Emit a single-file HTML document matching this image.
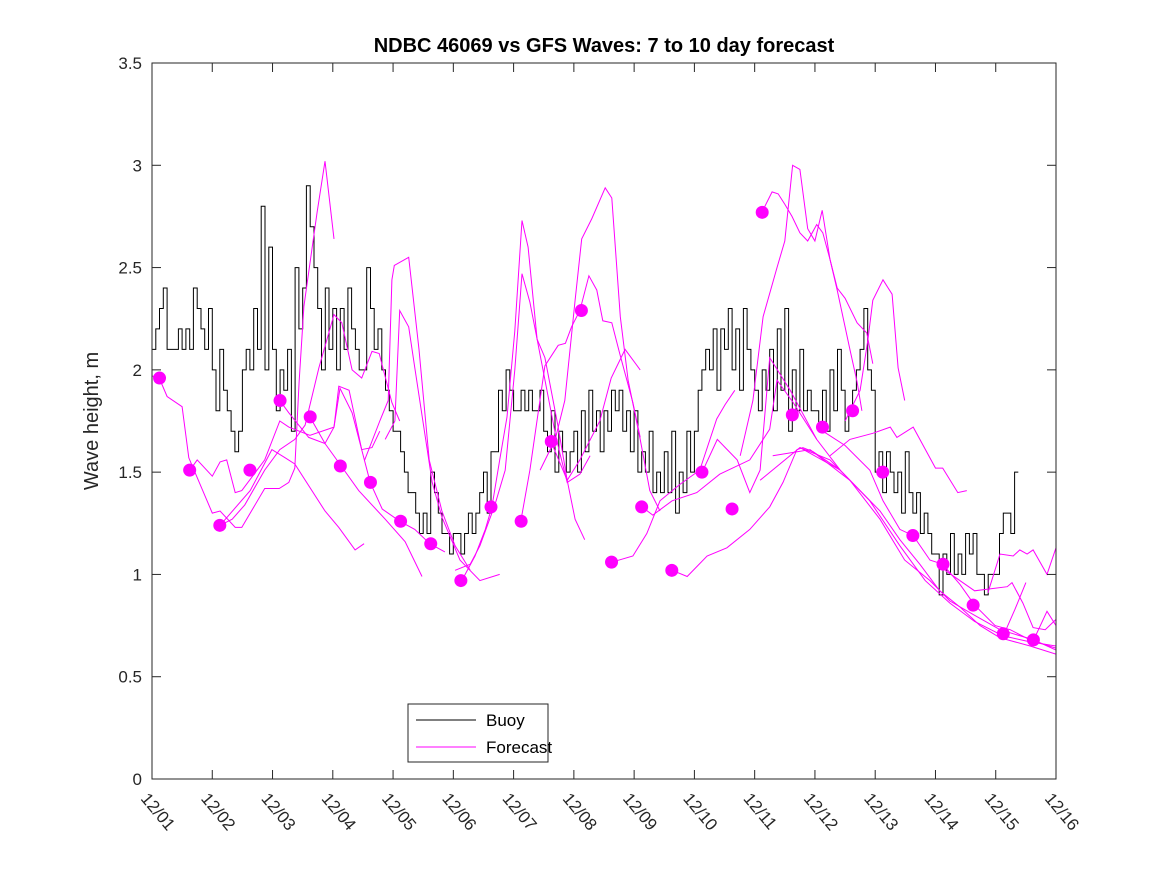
<!DOCTYPE html>
<html><head><meta charset="utf-8"><style>
body{margin:0;background:#fff;}
svg{display:block;font-family:"Liberation Sans",sans-serif;}
</style></head><body>
<svg id="chart" width="1167" height="875" viewBox="0 0 1167 875">
<rect width="1167" height="875" fill="#fff"/>
<text x="604" y="52" text-anchor="middle" font-size="20" font-weight="bold">NDBC 46069 vs GFS Waves: 7 to 10 day forecast</text>
<text transform="translate(98,421) rotate(-90)" text-anchor="middle" font-size="20" fill="#262626">Wave height, m</text>
<defs><clipPath id="clip"><rect x="152" y="63" width="904" height="716"/></clipPath></defs>
<g id="series" clip-path="url(#clip)"></g>
<rect x="152" y="63" width="904" height="716" fill="none" stroke="#262626" stroke-width="1"/>
<g id="axes"></g>
<g>
<rect x="408" y="704" width="140" height="58" fill="#fff" stroke="#262626"/>
<line x1="416" y1="720" x2="476" y2="720" stroke="#000"/>
<text x="486" y="726" font-size="17">Buoy</text>
<line x1="416" y1="747" x2="476" y2="747" stroke="#ff00ff"/>
<text x="486" y="753" font-size="17">Forecast</text>
</g>
</svg>
<script>
const xTickLabels=["12/01","12/02","12/03","12/04","12/05","12/06","12/07","12/08","12/09","12/10","12/11","12/12","12/13","12/14","12/15","12/16"];
const yTicks=[0,0.5,1,1.5,2,2.5,3,3.5];
const yTickLabels=["0","0.5","1","1.5","2","2.5","3","3.5"];
const buoyStep=1/16;
const buoy=[
2.1,2.2,2.3,2.4,2.1,2.1,2.1,2.2,2.1,2.2,2.1,2.4,2.3,2.2,2.1,2.3,
2.0,1.8,2.1,1.9,1.8,1.7,1.6,1.7,2.0,2.1,2.0,2.3,2.1,2.8,2.0,2.6,
2.1,1.8,2.0,1.9,2.1,1.7,2.5,2.2,2.4,2.9,2.7,2.5,2.3,2.0,2.4,2.1,
2.3,2.0,2.3,2.1,2.4,2.2,2.1,2.0,2.0,2.5,2.3,2.1,2.2,2.0,1.9,1.8,
1.7,1.7,1.6,1.5,1.4,1.4,1.3,1.2,1.3,1.2,1.5,1.4,1.3,1.2,1.2,1.1,
1.2,1.2,1.1,1.2,1.3,1.2,1.3,1.4,1.5,1.3,1.6,1.6,1.9,1.8,2.0,1.9,
1.8,1.8,1.9,1.8,1.9,1.8,1.8,1.9,1.7,1.6,1.8,1.5,1.7,1.6,1.5,1.6,
1.7,1.5,1.8,1.6,1.9,1.7,1.8,1.6,1.8,1.7,1.9,1.8,1.9,1.7,1.8,1.6,
1.8,1.5,1.6,1.5,1.7,1.4,1.5,1.4,1.6,1.4,1.7,1.3,1.5,1.4,1.7,1.5,
1.7,1.9,2.0,2.1,2.0,2.2,1.9,2.2,2.1,2.3,2.0,2.2,1.9,2.3,2.1,2.0,
1.9,1.8,2.0,1.9,2.1,1.8,2.2,1.9,2.3,1.7,2.0,1.8,2.1,1.8,1.9,1.8,
1.8,1.7,1.9,1.7,2.0,1.8,2.1,1.9,1.7,1.8,1.9,2.0,2.1,2.3,2.0,1.9,
1.5,1.6,1.4,1.6,1.5,1.4,1.5,1.3,1.6,1.4,1.3,1.4,1.2,1.3,1.2,1.1,
1.1,0.9,1.1,1.0,1.2,1.0,1.1,1.0,1.2,1.1,1.2,1.0,1.0,0.9,1.0,1.0,
1.0,1.2,1.3,1.3,1.2,1.5];
const dotDays=[0.125,0.625,1.125,1.625,2.125,2.625,3.125,3.625,4.125,4.625,5.125,5.625,6.125,6.625,7.125,7.625,8.125,8.625,9.125,9.625,10.125,10.625,11.125,11.625,12.125,12.625,13.125,13.625,14.125,14.625];
const dotValues=[1.96,1.51,1.24,1.51,1.85,1.77,1.53,1.45,1.26,1.15,0.97,1.33,1.26,1.65,2.29,1.06,1.33,1.02,1.50,1.32,2.77,1.78,1.72,1.80,1.50,1.19,1.05,0.85,0.71,0.68];

const fcDays1=[0,0.12,0.25,0.50,0.61,1.0,1.13,1.38,1.49,1.87,2.11,2.27,2.37,2.44,2.52,2.74,2.87,3.02];
const fcVals1=[1.97,1.96,1.87,1.82,1.57,1.30,1.31,1.23,1.23,1.42,1.42,1.45,1.52,1.94,2.31,2.77,3.02,2.64];
const fcDays2=[0.63,0.75,1.0,1.13,1.24,1.38,1.49,1.87,2.12,2.27,2.62,3.02,3.10,3.27,3.48,3.65,3.78];
const fcVals2=[1.51,1.56,1.48,1.55,1.56,1.40,1.41,1.56,1.75,1.72,1.68,1.72,1.92,1.90,1.61,1.62,1.70];
const fcDays3=[1.13,1.33,1.54,1.87,2.12,2.37,2.54,2.77,3.02,3.15,3.32,3.48,3.65,3.77,3.98,4.11];
const fcVals3=[1.24,1.27,1.34,1.51,1.61,1.66,1.73,2.01,2.27,2.23,2.0,1.96,2.09,2.08,1.84,1.75];
const fcDays4=[1.13,1.63,1.99,2.21,2.37,2.87,3.10,3.37,3.52];
const fcVals4=[1.24,1.41,1.61,1.57,1.54,1.31,1.23,1.12,1.15];
const fcDays5=[2.12,2.27,2.60,2.87,3.14,3.43,3.87,4.20,4.48];
const fcVals5=[1.85,1.79,1.67,1.64,1.53,1.41,1.27,1.16,0.99];
const fcDays6=[2.62,2.87,3.02,3.12,3.32,3.62,3.82,4.11,4.36,4.61,4.86];
const fcVals6=[1.77,1.64,1.72,1.91,1.79,1.45,1.32,1.26,1.22,1.15,1.11];
const fcDays7=[3.53,3.78,3.92,3.98,4.02,4.26,4.43,4.60,4.81,5.03,5.28];
const fcVals7=[1.56,1.75,1.85,2.44,2.51,2.55,2.10,1.56,1.31,1.14,1.02];
const fcDays8=[3.87,4.03,4.11,4.26,4.36,4.65,4.81,5.11,5.44,5.77];
const fcVals8=[1.66,1.75,2.29,2.21,2.01,1.45,1.28,1.07,0.97,1.0];
const fcDays9=[5.14,5.36,5.53,5.64,5.77,5.89,6.02,6.14,6.24,6.39,6.52,6.74,6.89,7.02,7.18];
const fcVals9=[0.97,1.09,1.22,1.33,1.56,1.77,2.19,2.73,2.60,2.15,2.06,1.72,1.46,1.27,1.17];
const fcDays10=[5.03,5.28,5.44,5.69,5.86,6.02,6.14,6.27,6.39,6.69,6.77,6.89,7.10,7.27];
const fcVals10=[1.02,1.05,1.14,1.34,1.51,2.0,2.47,2.33,2.15,1.69,1.59,1.45,1.49,1.58];
const fcDays11=[6.12,6.27,6.52,6.74,6.86,6.96,7.10,7.25,7.38,7.48,7.63,7.76,7.98,8.10];
const fcVals11=[1.26,1.51,2.02,2.12,2.13,2.21,2.29,2.46,2.39,2.24,2.23,2.08,1.84,1.67];
const fcDays12=[6.44,6.69,6.85,7.02,7.13,7.30,7.52,7.63,7.77,7.90,8.10,8.26,8.43];
const fcVals12=[1.51,1.66,1.85,2.34,2.64,2.74,2.89,2.84,2.26,1.95,1.66,1.41,1.31];
const fcDays13=[6.62,6.89,7.10,7.43,7.62,7.85,8.10];
const fcVals13=[1.65,1.46,1.56,1.75,1.96,2.10,2.0];
const fcDays14=[7.63,7.98,8.21,8.43,8.76,9.09,9.37,9.51,9.67];
const fcVals14=[1.06,1.09,1.20,1.36,1.44,1.51,1.76,1.83,1.90];
const fcDays15=[8.63,8.88,9.21,9.54,9.92,10.25,10.47,10.70,10.80,10.97,11.42];
const fcVals15=[1.02,0.99,1.09,1.13,1.22,1.33,1.45,1.61,1.62,1.60,1.51];
const fcDays16=[8.13,8.31,8.63,9.04,9.42,9.92,10.25,10.37,10.64,11.03];
const fcVals16=[1.33,1.29,1.36,1.40,1.49,1.56,1.71,1.95,1.84,1.66];
const fcDays17=[9.13,9.38,9.71,9.92,10.09,10.25,10.59,11.03,11.42];
const fcVals17=[1.50,1.66,1.56,1.40,1.51,2.06,1.90,1.66,1.51];
const fcDays18=[10.12,10.29,10.39,10.50,10.62,10.75,10.88,11.03,11.13,11.25,11.37,11.50,11.70,11.86,11.96];
const fcVals18=[2.77,2.87,2.86,2.81,2.75,2.67,2.63,2.71,2.67,2.54,2.40,2.35,2.23,2.18,2.03];
const fcDays19=[9.76,9.97,10.14,10.37,10.50,10.63,10.75,10.88,11.0,11.12,11.25,11.37,11.58,11.70,11.78];
const fcVals19=[1.58,1.85,2.26,2.50,2.63,3.0,2.98,2.69,2.63,2.78,2.54,2.39,2.10,1.94,1.80];
const fcDays20=[11.5,11.75,11.88,11.96,12.13,12.28,12.38,12.49];
const fcVals20=[1.75,1.90,2.15,2.34,2.44,2.37,2.01,1.85];
const fcDays21=[11.25,11.58,11.96,12.25,12.36,12.63,13.0,13.12,13.37,13.52];
const fcVals21=[1.58,1.66,1.69,1.72,1.67,1.72,1.52,1.52,1.40,1.41];
const fcDays22=[11.08,11.50,11.91,12.13,12.41,12.63,12.91,13.12,13.41,13.65,13.99,14.24,14.57,15.0];
const fcVals22=[1.71,1.63,1.51,1.36,1.22,1.19,1.07,1.05,0.95,0.85,0.75,0.73,0.68,0.64];
const fcDays23=[10.75,11.42,12.08,12.41,12.74,13.07,13.41,13.74,14.07,14.57,15.0];
const fcVals23=[1.62,1.51,1.31,1.17,1.05,0.92,0.84,0.75,0.69,0.65,0.61];
const fcDays24=[10.30,10.92,11.58,12.08,12.49,12.91,13.24,13.65,14.07,14.63,15.0];
const fcVals24=[1.58,1.61,1.46,1.27,1.07,0.97,0.87,0.80,0.73,0.68,0.63];
const fcDays25=[10.09,10.75,11.25,11.91,12.41,12.83,13.24,13.65,14.12,14.57,15.0];
const fcVals25=[1.46,1.62,1.56,1.36,1.14,0.97,0.86,0.77,0.70,0.67,0.65];
const fcDays26=[13.87,14.07,14.29,14.40,14.52,14.62,14.85,15.0];
const fcVals26=[0.91,1.10,1.09,1.12,1.10,1.12,1.0,1.13];
const fcDays27=[13.16,13.65,14.19,14.27,14.45,14.62,14.82,15.0];
const fcVals27=[1.02,0.92,0.94,0.96,0.86,0.74,0.73,0.78];
const fcDays28=[14.14,14.32,14.50];
const fcVals28=[0.71,0.83,0.96];
const fcDays29=[14.63,14.85,15.0];
const fcVals29=[0.68,0.82,0.75];
const fcDaysList=[fcDays1,fcDays2,fcDays3,fcDays4,fcDays5,fcDays6,fcDays7,fcDays8,fcDays9,fcDays10,fcDays11,fcDays12,fcDays13,fcDays14,fcDays15,fcDays16,fcDays17,fcDays18,fcDays19,fcDays20,fcDays21,fcDays22,fcDays23,fcDays24,fcDays25,fcDays26,fcDays27,fcDays28,fcDays29];
const fcValsList=[fcVals1,fcVals2,fcVals3,fcVals4,fcVals5,fcVals6,fcVals7,fcVals8,fcVals9,fcVals10,fcVals11,fcVals12,fcVals13,fcVals14,fcVals15,fcVals16,fcVals17,fcVals18,fcVals19,fcVals20,fcVals21,fcVals22,fcVals23,fcVals24,fcVals25,fcVals26,fcVals27,fcVals28,fcVals29];

const X0=152,X1=1056,Y0=779,Y1=63,XMAX=15,YMAX=3.5;
const xs=d=>X0+(X1-X0)*d/XMAX;
const ys=v=>Y0-(Y0-Y1)*v/YMAX;
const NS="http://www.w3.org/2000/svg";
const mk=(t,a,p)=>{const e=document.createElementNS(NS,t);for(const k in a)e.setAttribute(k,a[k]);p.appendChild(e);return e;};
const axes=document.getElementById('axes'),series=document.getElementById('series');

xTickLabels.forEach((lab,i)=>{
  const x=xs(i);
  const t1=mk('line',{x1:x,y1:Y0,x2:x,y2:Y0-9,stroke:'#262626'},axes);
  
  
  const t2=mk('line',{x1:x,y1:Y1,x2:x,y2:Y1+9,stroke:'#262626'},axes);
  
  
  const tx=mk('text',{transform:`translate(${x-12},${Y0+20}) rotate(50)`,'font-size':17,fill:'#262626'},axes);
  tx.textContent=lab;
  
  
});
yTicks.forEach((v,i)=>{
  const y=ys(v);
  const t1=mk('line',{x1:X0,y1:y,x2:X0+9,y2:y,stroke:'#262626'},axes);
  
  
  const t2=mk('line',{x1:X1,y1:y,x2:X1-9,y2:y,stroke:'#262626'},axes);
  
  
  const tx=mk('text',{x:X0-10,y:y+6,'text-anchor':'end','font-size':17,fill:'#262626'},axes);
  tx.textContent=yTickLabels[i];
  
  
});

// buoy (stairs)
let d='';
buoy.forEach((v,i)=>{
  const x=xs(i*buoyStep),x2=xs((i+1)*buoyStep),y=ys(v);
  d+=(i===0?'M':'L')+x.toFixed(1)+','+y.toFixed(1)+'L'+x2.toFixed(1)+','+y.toFixed(1);
});
const bp=mk('path',{d:d,fill:'none',stroke:'#000','stroke-width':1},series);


// forecasts
fcDaysList.forEach((days,k)=>{
  const vals=fcValsList[k];
  const pts=days.map((dd,i)=>xs(dd).toFixed(1)+','+ys(vals[i]).toFixed(1)).join(' ');
  const pl=mk('polyline',{points:pts,fill:'none',stroke:'#ff00ff','stroke-width':1},series);
  
  
});
// dots
dotDays.forEach((dd,i)=>{
  const c=mk('circle',{cx:xs(dd),cy:ys(dotValues[i]),r:6.5,fill:'#ff00ff'},series);
  
  
});
</script>
</body></html>
